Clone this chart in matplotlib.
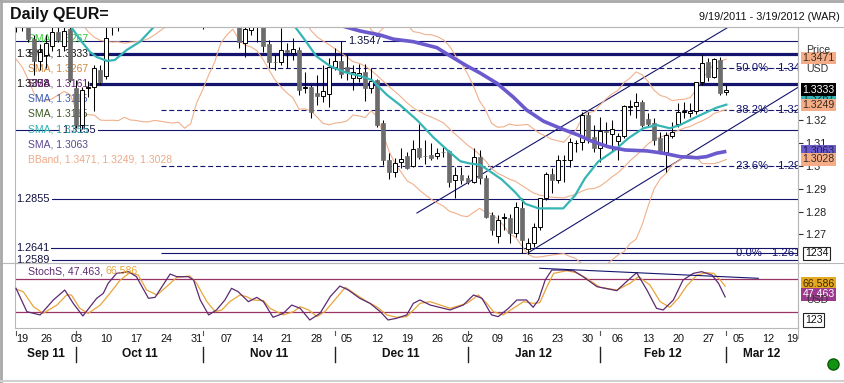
import matplotlib
matplotlib.use("Agg")
import matplotlib.pyplot as plt
import matplotlib.transforms as mtrans
from matplotlib.lines import Line2D
import numpy as np
import pandas as pd

plt.rcParams['font.family'] = ['Liberation Sans', 'DejaVu Sans']

W, H = 845, 383

# ---------------- data ----------------
title = "Daily QEUR="
date_range = "9/19/2011 - 3/19/2012 (WAR)"

# closes before the first session shown (only used to warm up the Bollinger band)
hist_close = [1.4450, 1.4410, 1.4390, 1.4490, 1.4500, 1.4430, 1.4380, 1.4250, 1.4200, 1.4080,
              1.4000, 1.4070, 1.3880, 1.3650, 1.3650, 1.3680, 1.3760, 1.3880, 1.3790]

# daily candles, 19 Sep 2011 .. 1 Mar 2012 (weekdays)
opens = [1.3790, 1.3690, 1.3710, 1.3554, 1.3458, 1.3484, 1.3525, 1.3586, 1.3525, 1.3597,
         1.3338, 1.3178, 1.3340, 1.3346, 1.3418, 1.3390, 1.3625, 1.3630, 1.3780, 1.3760,
         1.3880, 1.3730, 1.3790, 1.3740, 1.3780, 1.3890, 1.3920, 1.3910, 1.3900, 1.4180,
         1.4140, 1.3860, 1.3690, 1.3750, 1.3820, 1.3780, 1.3760, 1.3810, 1.3536, 1.3593,
         1.3740, 1.3615, 1.3532, 1.3455, 1.3455, 1.3506, 1.3491, 1.3506, 1.3340, 1.3346,
         1.3317, 1.3306, 1.3312, 1.3433, 1.3458, 1.3433, 1.3385, 1.3382, 1.3411, 1.3338,
         1.3375, 1.3186, 1.3025, 1.2975, 1.3015, 1.3043, 1.3000, 1.3076, 1.3044, 1.3047,
         1.3043, 1.3062, 1.3066, 1.2938, 1.2960, 1.2945, 1.2931, 1.3040, 1.2945, 1.2785,
         1.2695, 1.2770, 1.2773, 1.2705, 1.2817, 1.2637, 1.2661, 1.2734, 1.2858, 1.2963,
         1.2938, 1.3025, 1.3025, 1.3098, 1.3105, 1.3222, 1.3127, 1.3076, 1.3150, 1.3141,
         1.3108, 1.3130, 1.3258, 1.3259, 1.3277, 1.3204, 1.3186, 1.3120, 1.3062, 1.3132,
         1.3181, 1.3235, 1.3229, 1.3240, 1.3368, 1.3455, 1.3389, 1.3462, 1.3322]
highs = [1.3800, 1.3770, 1.3750, 1.3570, 1.3530, 1.3571, 1.3612, 1.3612, 1.3640, 1.3640,
         1.3375, 1.3345, 1.3370, 1.3440, 1.3440, 1.3640, 1.3700, 1.3800, 1.3800, 1.3900,
         1.3910, 1.3820, 1.3850, 1.3800, 1.3900, 1.3960, 1.3960, 1.3960, 1.4250, 1.4200,
         1.4150, 1.3870, 1.3800, 1.3870, 1.3870, 1.3820, 1.3830, 1.3850, 1.3630, 1.3760,
         1.3770, 1.3650, 1.3549, 1.3484, 1.3600, 1.3535, 1.3560, 1.3520, 1.3411, 1.3353,
         1.3397, 1.3440, 1.3469, 1.3516, 1.3545, 1.3484, 1.3440, 1.3443, 1.3443, 1.3429,
         1.3380, 1.3200, 1.3054, 1.3033, 1.3076, 1.3060, 1.3113, 1.3181, 1.3113, 1.3098,
         1.3076, 1.3080, 1.3070, 1.2996, 1.2996, 1.2960, 1.3076, 1.3070, 1.2960, 1.2800,
         1.2785, 1.2793, 1.2790, 1.2843, 1.2858, 1.2683, 1.2749, 1.2860, 1.2975, 1.2989,
         1.3047, 1.3047, 1.3120, 1.3113, 1.3236, 1.3236, 1.3178, 1.3215, 1.3193, 1.3200,
         1.3142, 1.3266, 1.3288, 1.3317, 1.3288, 1.3230, 1.3210, 1.3149, 1.3149, 1.3193,
         1.3273, 1.3280, 1.3273, 1.3368, 1.3484, 1.3470, 1.3470, 1.3477, 1.3353]
lows = [1.3586, 1.3588, 1.3540, 1.3397, 1.3420, 1.3425, 1.3500, 1.3540, 1.3500, 1.3365,
        1.3165, 1.3160, 1.3300, 1.3240, 1.3353, 1.3380, 1.3571, 1.3590, 1.3690, 1.3740,
        1.3700, 1.3650, 1.3720, 1.3660, 1.3760, 1.3860, 1.3850, 1.3800, 1.3890, 1.4100,
        1.3850, 1.3598, 1.3680, 1.3650, 1.3720, 1.3650, 1.3730, 1.3516, 1.3477, 1.3571,
        1.3542, 1.3499, 1.3426, 1.3418, 1.3440, 1.3426, 1.3462, 1.3309, 1.3317, 1.3207,
        1.3266, 1.3280, 1.3258, 1.3420, 1.3385, 1.3375, 1.3331, 1.3365, 1.3283, 1.3320,
        1.3170, 1.3004, 1.2942, 1.2953, 1.2990, 1.2985, 1.2995, 1.3030, 1.3010, 1.3025,
        1.3030, 1.3040, 1.2909, 1.2858, 1.2920, 1.2920, 1.2925, 1.2920, 1.2770, 1.2698,
        1.2661, 1.2720, 1.2661, 1.2690, 1.2618, 1.2613, 1.2647, 1.2720, 1.2850, 1.2880,
        1.2925, 1.2931, 1.2995, 1.3060, 1.3069, 1.3100, 1.3060, 1.3018, 1.3091, 1.3060,
        1.3025, 1.3120, 1.3222, 1.3208, 1.3170, 1.3170, 1.3091, 1.3050, 1.2975, 1.3120,
        1.3170, 1.3210, 1.3215, 1.3225, 1.3353, 1.3370, 1.3382, 1.3309, 1.3309]
closes = [1.3690, 1.3710, 1.3554, 1.3458, 1.3499, 1.3535, 1.3586, 1.3550, 1.3589, 1.3375,
          1.3178, 1.3331, 1.3343, 1.3426, 1.3368, 1.3557, 1.3630, 1.3780, 1.3760, 1.3880,
          1.3730, 1.3790, 1.3740, 1.3780, 1.3890, 1.3920, 1.3910, 1.3900, 1.4180, 1.4140,
          1.3860, 1.3690, 1.3750, 1.3820, 1.3780, 1.3760, 1.3810, 1.3542, 1.3597, 1.3740,
          1.3615, 1.3525, 1.3455, 1.3452, 1.3506, 1.3498, 1.3510, 1.3331, 1.3343, 1.3234,
          1.3303, 1.3327, 1.3433, 1.3458, 1.3400, 1.3411, 1.3411, 1.3404, 1.3338, 1.3370,
          1.3178, 1.3025, 1.2975, 1.3011, 1.3030, 1.2992, 1.3073, 1.3040, 1.3043, 1.3036,
          1.3057, 1.3060, 1.2931, 1.2960, 1.2938, 1.2931, 1.3040, 1.2945, 1.2778, 1.2720,
          1.2763, 1.2775, 1.2705, 1.2822, 1.2676, 1.2661, 1.2734, 1.2858, 1.2963, 1.2938,
          1.3025, 1.3027, 1.3105, 1.3100, 1.3222, 1.3120, 1.3076, 1.3152, 1.3148, 1.3160,
          1.3130, 1.3261, 1.3260, 1.3277, 1.3178, 1.3182, 1.3113, 1.3062, 1.3135, 1.3146,
          1.3234, 1.3240, 1.3240, 1.3365, 1.3448, 1.3389, 1.3465, 1.3316, 1.3331]

# moving averages (session index, value)
cyan_idx = [9.0, 10.9, 12.3, 13.4, 15.1, 16.4, 18.4, 20.6, 23.1, np.nan,
            46.2, 48.0, 49.9, 52.2, 54.7, 57.1, 59.1, 61.6, 63.8, 66.6, 69.3, 71.8, 73.8,
            75.4, 77.1, 78.5, 80.7, 82.9, 84.6, 86.8, 90.9, 92.9, 94.5, 96.7, 99.5, 101.7,
            104.2, 106.4, 108.6, 110.3, 112.5, 114.7, 116.4, 118.0]
cyan_val = [1.3612, 1.3542, 1.3497, 1.3475, 1.3458, 1.3462, 1.3506, 1.3542, 1.3612, np.nan,
            1.3612, 1.3549, 1.3478, 1.3435, 1.3408, 1.3393, 1.3375, 1.3310, 1.3265, 1.3200,
            1.3125, 1.3065, 1.3020, 1.3010, 1.3004, 1.2980, 1.2940, 1.2885, 1.2834, 1.2814,
            1.2814, 1.2872, 1.2945, 1.3018, 1.3069, 1.3120, 1.3164, 1.3178, 1.3164, 1.3178,
            1.3207, 1.3234, 1.3254, 1.3267]
purple_idx = [54.0, 57.1, 60.5, 62.7, 66.0, 69.9, 72.1, 74.9, 77.1, 79.9, 82.6, 84.8, 87.6,
              90.4, 93.4, 95.6, 98.4, 101.2, 104.8, 107.5, 110.3, 113.1, 114.7, 116.4, 118.0]
purple_val = [1.3612, 1.3589, 1.3571, 1.3553, 1.3542, 1.3516, 1.3480, 1.3436, 1.3405, 1.3360,
              1.3300, 1.3244, 1.3195, 1.3164, 1.3134, 1.3108, 1.3083, 1.3069, 1.3065, 1.3055,
              1.3040, 1.3035, 1.3040, 1.3055, 1.3063]

# slow stochastic (session index, value)
stk_idx = [0, 1.8, 4, 6.2, 8.1, 9.5, 11.1, 13.4, 14.5, 15.3, 16.7, 18.7, 20, 22, 23.1, 25.6,
           26.7, 28.6, 29.5, 30.6, 32, 33.3, 34.7, 35.8, 36.9, 38.6, 40, 41.1, 42.7, 44.4,
           45.8, 47.2, 48.8, 50.5, 52.2, 53.8, 55.2, 57.1, 58.8, 60.5, 61.8, 63.2, 64.9, 66,
           67.1, 68.8, 72.1, 74.3, 76, 77.4, 79, 80.1, 81.8, 83.2, 84.8, 85.9, 86.8, 87.9,
           89, 90.9, 92.6, 94.2, 96.5, 99.8, 101.7, 103.1, 104.8, 106.4, 107.5, 109.2,
           110.8, 112.5, 113.9, 115.6, 116.7, 117.8]
stk_val = [62.8, 21.2, 15.3, 42, 59.8, 36, 13.5, 45, 53.9, 71.7, 89.5, 92.5, 83.6, 45, 46.7,
           88.3, 83.6, 83.6, 77.6, 42, 15.3, 24.2, 42, 62.8, 56.8, 39, 46.7, 39, 11.1, 18.2,
           33, 27.1, 6.3, 18.2, 48, 66.9, 59.8, 45, 36, 21.2, 6.3, 9.3, 15.3, 36, 42, 33,
           24.2, 33, 50.9, 45, 15.3, 12.3, 27.1, 42, 42, 29, 42, 77.6, 95.4, 95.4, 94.2,
           83.6, 65.8, 58.6, 77.6, 90.7, 59.8, 27.1, 24.2, 42, 77.6, 89.5, 92.5, 86.5,
           71.7, 47.463]
std_idx = [0.1, 1.2, 2.9, 4.5, 6.8, 8.4, 9.2, 10.6, 12.0, 14.0, 15.6, 17.3, 18.9, 20.3,
           21.7, 23.4, 25.0, 26.7, 28.9, 30.0, 31.7, 33.1, 34.2, 35.5, 37.2, 38.3, 39.4,
           41.1, 42.2, 44.4, 46.1, 47.2, 48.6, 50.0, 51.3, 52.7, 54.7, 56.6, 58.3, 59.9,
           61.6, 63.2, 64.9, 66.3, 67.1, 68.8, 72.1, 74.9, 76.8, 78.2, 79.3, 80.9, 82.6,
           84.3, 85.9, 87.0, 88.2, 89.3, 91.5, 93.1, 94.8, 97.0, 99.8, 102.0, 103.4, 105.3,
           107.0, 108.6, 110.0, 111.4, 113.1, 114.7, 115.9, 117.0, 117.8]
std_val = [61, 56.8, 30.1, 18.2, 33, 50.9, 50.9, 27.1, 18.2, 33, 53.9, 77.6, 90.7, 86.5,
           59.8, 50.9, 65.7, 82.4, 84.8, 71.7, 39, 21.2, 24.2, 39, 50.9, 47.9, 42, 40.8,
           27.1, 15.3, 21.2, 30.1, 24.2, 12.3, 21.2, 39, 64.6, 50.9, 39, 30.1, 15.3, 11.1,
           12.3, 27.1, 36, 39, 27.1, 36, 50.9, 36, 21.2, 15.3, 27.1, 39, 36, 37.2, 65.7,
           89.5, 94.3, 90.7, 80.6, 64.6, 59.8, 71.7, 83.6, 68.7, 39, 28.9, 45, 66.9, 86.5,
           90.7, 89.5, 77.6, 66.586]
stoch_levels = [80, 20]

# drawn price levels
level_values = [1.3547, 1.3155, 1.2855, 1.2641, 1.2589]
level_labels = ["1.3547", "1.3155", "1.2855", "1.2641", "1.2589"]
level_label_idx = [55.1, 7.6, 0.0, 0.0, 0.0]
thick_values = [1.3488, 1.3358]
thick_labels = ["1.3488", "1.3358"]
fib_values = [1.2619, 1.2998, 1.3243, 1.3428]
fib_pcts = ["0.0%", "23.6%", "38.2%", "50.0%"]
channel_upper = ([66.6, 118.1], [1.2794, 1.3602])
channel_lower = ([85.0, 130.0], [1.2619, 1.3344])
stoch_trend = ([87.0, 123.3], [98.6, 80.7])

legend_labels = ["SMA, 1.3267", "SMA, 1.3333", "SMA, 1.3267", "SMA, 1.3161", "SMA, 1.3115",
                 "SMA, 1.3115", "SMA, 1.3155", "SMA, 1.3063", "BBand, 1.3471, 1.3249, 1.3028"]
legend_colors = ['#2ecc2e', '#111111', '#d0883a', '#6a1a78', '#3a5db5', '#3d5a22',
                 '#2db3b3', '#5b4a92', '#eeaa88']

price_ticks = [1.27, 1.28, 1.29, 1.30, 1.31, 1.32]
price_tick_labels = ["1.27", "1.28", "1.29", "1.3", "1.31", "1.32"]

day_idx = list(range(0, 131, 5))
day_labels = ["19", "26", "03", "10", "17", "24", "31", "07", "14", "21", "28", "05", "12",
              "19", "26", "02", "09", "16", "23", "30", "06", "13", "20", "27", "05", "12", "19"]
month_start_idx = [10, 31, 53, 75, 97, 118]
month_names = ["Sep 11", "Oct 11", "Nov 11", "Dec 11", "Jan 12", "Feb 12", "Mar 12"]

last_price = 1.3333
bb_last = (1.3471, 1.3249, 1.3028)
sma_fast_last = 1.3267
sma_slow_last = 1.3063
stoch_last = (47.463, 66.586)

# ---------------- styles ----------------
NAVY = '#14146e'
CYAN = '#35b5b5'
PURPLE = '#6a5acd'
SALMON = '#f0b08c'
GRAYC = '#6c6c6c'
FRAME = '#b8b8b8'
K_COL = '#5c2a72'
D_COL = '#e8a43a'

fig = plt.figure(figsize=(W / 100, H / 100), dpi=100)
fig.patch.set_facecolor('white')


def fx(x):
    return x / W


def fy(y):
    return 1 - y / H


ax = fig.add_axes([fx(15), fy(263), (798 - 15) / W, (263 - 27) / H])
ax2 = fig.add_axes([fx(15), fy(328), (798 - 15) / W, (328 - 263) / H])
XMIN, XMAX = -0.17, 129.9
ax.set_xlim(XMIN, XMAX)
ax.set_ylim(1.25755, 1.36061)
ax2.set_xlim(XMIN, XMAX)
ax2.set_ylim(-8, 108)
for a in (ax, ax2):
    a.set_xticks([])
    a.set_facecolor('white')
    for s in a.spines.values():
        s.set_color(FRAME)
        s.set_linewidth(0.8)
ax2.set_yticks([])
ax.yaxis.tick_right()
ax.set_yticks(price_ticks)
ax.set_yticklabels(price_tick_labels, fontsize=7.8, color='#222222')
ax.tick_params(axis='y', length=3.5, width=0.8, color='#333333', pad=1.5)

# ---- price levels
for v, lab, li in zip(level_values, level_labels, level_label_idx):
    ax.axhline(v, color=NAVY, lw=0.8, zorder=1)
    ax.text(li, v, lab, fontsize=7.8, color='#101040', va='center', ha='left', zorder=2.2,
            clip_on=True, bbox=dict(boxstyle='square,pad=0.2', fc='white', ec='none'))
for v, lab in zip(thick_values, thick_labels):
    ax.hlines(v, 12.1, XMAX, color=NAVY, lw=2.3, zorder=1)
    ax.text(0.0, v, lab, fontsize=7.8, color='#101010', va='center', ha='left', zorder=2.2)
for v, p in zip(fib_values, fib_pcts):
    ls = '-' if p == "0.0%" else (0, (4.5, 2.5))
    ax.hlines(v, 24.1, XMAX, color=NAVY, lw=0.8, linestyles=ls, zorder=1)
    ax.text(119.6, v, f"{p} - {v:.4f}", fontsize=8.1, color=NAVY, va='center', ha='left',
            zorder=2.2, clip_on=True)

# channel
ax.plot(*channel_upper, color=NAVY, lw=0.8, zorder=2)
ax.plot(*channel_lower, color=NAVY, lw=0.8, zorder=2)

# Bollinger band (20, 2)
allc = pd.Series(hist_close + closes)
mid = allc.rolling(20).mean().values[len(hist_close):]
sd = allc.rolling(20).std(ddof=0).values[len(hist_close):]
idx = np.arange(len(closes))
for line in (mid + 2 * sd, mid, mid - 2 * sd):
    ax.plot(idx, line, color=SALMON, lw=0.8, zorder=2)

# legend text
for k, (lab, col) in enumerate(zip(legend_labels, legend_colors)):
    ax.text(fx(28.3), fy(38.5 + 15.1 * k), lab, transform=fig.transFigure, fontsize=7.5,
            color=col, va='center', ha='left', zorder=2.5)

# candles
o = np.array(opens)
h = np.array(highs)
l = np.array(lows)
c = np.array(closes)
up = c >= o
bot = np.minimum(o, c)
bh = np.maximum(np.abs(c - o), 0.00004)
ax.vlines(idx, l, h, color='black', lw=0.75, zorder=3)
ax.bar(idx[up], bh[up], bottom=bot[up], width=0.66, color='white', edgecolor='black',
       linewidth=0.7, zorder=4)
ax.bar(idx[~up], bh[~up], bottom=bot[~up], width=0.66, color=GRAYC, edgecolor=GRAYC,
       linewidth=0.5, zorder=4)

# moving averages
ax.plot(cyan_idx, cyan_val, color=CYAN, lw=1.6, zorder=5)
ax.plot(purple_idx, purple_val, color=PURPLE, lw=2.6, zorder=5, solid_capstyle='butt')


# ---- right side value boxes
def vbox(a, text, val, fc, tc, dy=0, z=6, ec='none'):
    a.annotate(text, xy=(1, val), xycoords=a.get_yaxis_transform(), xytext=(3.2, dy),
               textcoords='offset points', ha='left', va='center', fontsize=7.6, color=tc,
               annotation_clip=False, zorder=z,
               bbox=dict(boxstyle='square,pad=0.12', fc=fc, ec=ec, lw=0.8))


fig.text(fx(806), fy(50), "Price", fontsize=7.6, color='#333333', va='center')
fig.text(fx(806), fy(69), "USD", fontsize=7.6, color='#333333', va='center')
vbox(ax, f"{bb_last[0]:.4f}", bb_last[0], '#f4ad86', '#3a2a20', 0, 7)
vbox(ax, f"{sma_fast_last:.4f}", sma_fast_last, CYAN, '#103030', 4.5, 6)
vbox(ax, f"{bb_last[1]:.4f}", bb_last[1], '#f4ad86', '#3a2a20', 2.8, 7)
vbox(ax, f"{last_price:.4f}", last_price, 'black', 'white', 0, 8)
vbox(ax, f"{sma_slow_last:.4f}", sma_slow_last, PURPLE, '#20204a', 0, 6)
vbox(ax, f"{bb_last[2]:.4f}", bb_last[2], '#f4ad86', '#3a2a20', 0, 7)
fig.text(fx(805), fy(253.5), "1234", fontsize=7.6, color='#111111', va='center',
         bbox=dict(boxstyle='square,pad=0.15', fc='white', ec='#222222', lw=0.8))

# ---- stochastic panel
for lv in stoch_levels:
    ax2.axhline(lv, color='#993366', lw=0.9, zorder=1)
ax2.plot(std_idx, std_val, color=D_COL, lw=0.9, zorder=3)
ax2.plot(stk_idx, stk_val, color=K_COL, lw=0.9, zorder=4)
ax2.plot(*stoch_trend, color=NAVY, lw=0.8, zorder=5)

t1 = fig.text(fx(28), fy(271), f"StochS, {stoch_last[0]:.3f}, ", fontsize=7.6,
              color=K_COL, va='center')
renderer = fig.canvas.get_renderer()
wpx = t1.get_window_extent(renderer).width
fig.text(fx(28 + wpx), fy(271), f"{stoch_last[1]:.3f}", fontsize=7.6, color=D_COL,
         va='center')

fig.text(fx(806), fy(300), "USD", fontsize=7.6, color='#333333', va='center')
vbox(ax2, f"{stoch_last[1]:.3f}", stoch_last[1], '#e5a823', '#3a2a00', 1.8, 7)
vbox(ax2, f"{stoch_last[0]:.3f}", stoch_last[0], '#9b3a8c', 'white', 1.8, 8)
fig.text(fx(805), fy(320), "123", fontsize=7.6, color='#111111', va='center',
         bbox=dict(boxstyle='square,pad=0.15', fc='white', ec='#222222', lw=0.8))

# ---- date axis
btr = mtrans.blended_transform_factory(ax2.transData, fig.transFigure)
for k, (di, dl) in enumerate(zip(day_idx, day_labels)):
    ha = 'center'
    xi = di
    if k == 0:
        ha = 'left'
        xi = di + 0.1
    elif k == len(day_idx) - 1:
        ha = 'right'
    ax2.text(xi, fy(339), dl, transform=btr, fontsize=7.8, color='#111111', ha=ha,
             va='center', clip_on=False)
bounds = [XMIN] + month_start_idx + [XMAX]
for k, name in enumerate(month_names):
    ax2.text((bounds[k] + bounds[k + 1]) / 2, fy(354), name, transform=btr, fontsize=8.6,
             fontweight='bold', color='#111111', ha='center', va='center', clip_on=False)
for ms in month_start_idx:
    ax2.plot([ms, ms], [fy(347), fy(362)], transform=btr, color='#222222', lw=1.0,
             clip_on=False)
for ms in [0] + month_start_idx:
    ax2.plot([ms, ms], [fy(331), fy(335)], transform=btr, color='#555555', lw=0.8,
             clip_on=False)

# ---- frame decorations
fig.add_artist(Line2D([fx(0), fx(845)], [fy(263), fy(263)], color=FRAME, lw=0.8))
fig.add_artist(Line2D([fx(15), fx(845)], [fy(27), fy(27)], color=FRAME, lw=0.8))
fig.add_artist(Line2D([fx(798), fx(798)], [fy(27), fy(338)], color=FRAME, lw=0.8))
fig.add_artist(Line2D([fx(1), fx(1)], [fy(0), fy(383)], color='#a8a8a8', lw=2))
fig.add_artist(Line2D([fx(0), fx(845)], [fy(1), fy(1)], color='#a8a8a8', lw=2))
fig.add_artist(Line2D([fx(0), fx(845)], [fy(381), fy(381)], color='#d0d0d0', lw=1.5))
fig.add_artist(Line2D([fx(833)], [fy(364)], marker='o', markersize=8,
                      markerfacecolor='#129412', markeredgecolor='#0a5a0a', lw=0))

fig.text(fx(10), fy(14), title, fontsize=11.5, fontweight='bold', color='#111111',
         va='center', ha='left')
fig.text(fx(840), fy(16.5), date_range, fontsize=7.8, color='#111111', va='center',
         ha='right')

fig.savefig('out.png', dpi=100, facecolor='white')
